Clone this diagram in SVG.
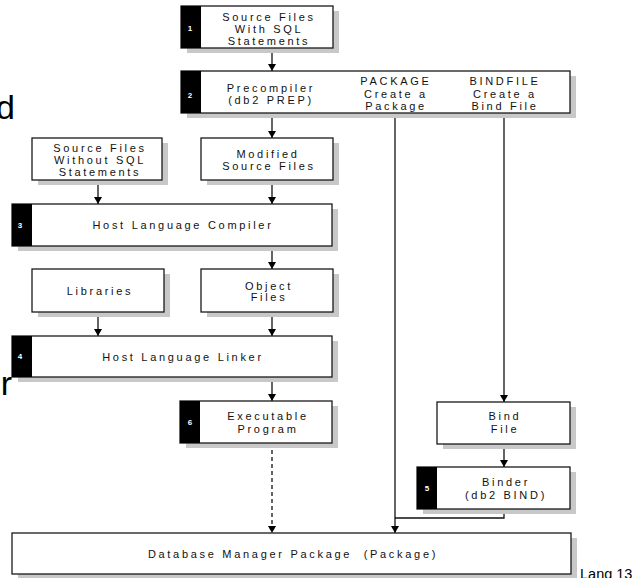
<svg xmlns="http://www.w3.org/2000/svg" width="638" height="578" viewBox="0 0 638 578">
<style>
.bx{fill:#fff;stroke:#1a1a1a;stroke-width:1.3}
.sh{fill:#c8c8c8}
.tab{fill:#000}
.t{font-family:"Liberation Sans",Arial,sans-serif;font-size:11px;letter-spacing:2.7px;fill:#111;text-anchor:middle}
.n{font-family:"Liberation Sans",Arial,sans-serif;font-size:8px;font-weight:bold;fill:#fff;text-anchor:middle}
.big{font-family:"Liberation Sans",Arial,sans-serif;font-size:34px;fill:#000}
.ln{fill:none;stroke:#111;stroke-width:1.3}
.ds{fill:none;stroke:#111;stroke-width:1.3;stroke-dasharray:4 3}
</style>
<defs>
<marker id="ah" markerWidth="7" markerHeight="8" refX="7" refY="4" orient="auto" markerUnits="userSpaceOnUse">
<path d="M0,0 L7,4 L0,8 z" fill="#000"/>
</marker>
</defs>
<rect width="638" height="578" fill="#fff"/>
<text class="big" x="15" y="119" text-anchor="end">d</text>
<text class="big" x="12" y="395" text-anchor="end">r</text>

<g id="connectors">
<line class="ln" x1="272" y1="48" x2="272" y2="71" marker-end="url(#ah)"/>
<line class="ln" x1="272" y1="113" x2="272" y2="138" marker-end="url(#ah)"/>
<line class="ln" x1="98" y1="180" x2="98" y2="204" marker-end="url(#ah)"/>
<line class="ln" x1="272" y1="180" x2="272" y2="204" marker-end="url(#ah)"/>
<line class="ln" x1="272" y1="246" x2="272" y2="269" marker-end="url(#ah)"/>
<line class="ln" x1="98" y1="312" x2="98" y2="336" marker-end="url(#ah)"/>
<line class="ln" x1="272" y1="312" x2="272" y2="336" marker-end="url(#ah)"/>
<line class="ln" x1="272" y1="377" x2="272" y2="401" marker-end="url(#ah)"/>
<line class="ds" x1="272" y1="443" x2="272" y2="533" marker-end="url(#ah)"/>
<line class="ln" x1="395" y1="113" x2="395" y2="533" marker-end="url(#ah)"/>
<line class="ln" x1="504" y1="113" x2="504" y2="402" marker-end="url(#ah)"/>
<line class="ln" x1="504" y1="444" x2="504" y2="467" marker-end="url(#ah)"/>
<polyline class="ln" points="504,509 504,518 395,518"/>
</g>

<g id="n1">
<rect class="sh" x="187" y="11" width="152" height="42"/>
<rect class="bx" x="181" y="6" width="152" height="42"/>
<rect class="tab" x="181" y="6" width="20" height="42"/>
<text class="n" x="190" y="31">1</text>
<text class="t" x="269" y="21">Source Files</text>
<text class="t" x="269" y="33">With SQL</text>
<text class="t" x="269" y="45">Statements</text>
</g>

<g id="n2">
<rect class="sh" x="187" y="76" width="389" height="42"/>
<rect class="bx" x="181" y="71" width="389" height="42"/>
<rect class="tab" x="181" y="71" width="20" height="42"/>
<text class="n" x="190" y="98">2</text>
<text class="t" x="271" y="92">Precompiler</text>
<text class="t" x="271" y="104">(db2 PREP)</text>
<text class="t" x="396" y="85">PACKAGE</text>
<text class="t" x="396" y="97.5">Create a</text>
<text class="t" x="396" y="110">Package</text>
<text class="t" x="505" y="85">BINDFILE</text>
<text class="t" x="505" y="97.5">Create a</text>
<text class="t" x="505" y="110">Bind File</text>
</g>

<g id="nsrc">
<rect class="sh" x="38" y="143" width="130" height="42"/>
<rect class="bx" x="32" y="138" width="130" height="42"/>
<text class="t" x="100" y="152">Source Files</text>
<text class="t" x="100" y="164">Without SQL</text>
<text class="t" x="100" y="176">Statements</text>
</g>

<g id="nmod">
<rect class="sh" x="207" y="143" width="132" height="42"/>
<rect class="bx" x="201" y="138" width="132" height="42"/>
<text class="t" x="268" y="158">Modified</text>
<text class="t" x="269" y="170">Source Files</text>
</g>

<g id="n3">
<rect class="sh" x="18" y="209" width="320" height="42"/>
<rect class="bx" x="12" y="204" width="320" height="42"/>
<rect class="tab" x="12" y="204" width="20" height="42"/>
<text class="n" x="20" y="228">3</text>
<text class="t" x="183" y="229">Host Language Compiler</text>
</g>

<g id="nlib">
<rect class="sh" x="38" y="274" width="132" height="43"/>
<rect class="bx" x="32" y="269" width="132" height="43"/>
<text class="t" x="100" y="294.5">Libraries</text>
</g>

<g id="nobj">
<rect class="sh" x="207" y="274" width="132" height="43"/>
<rect class="bx" x="201" y="269" width="132" height="43"/>
<text class="t" x="269" y="289.5">Object</text>
<text class="t" x="269" y="301">Files</text>
</g>

<g id="n4">
<rect class="sh" x="18" y="341" width="320" height="41"/>
<rect class="bx" x="12" y="336" width="320" height="41"/>
<rect class="tab" x="12" y="336" width="20" height="41"/>
<text class="n" x="20" y="359">4</text>
<text class="t" x="183" y="361">Host Language Linker</text>
</g>

<g id="n6">
<rect class="sh" x="186" y="406" width="152" height="42"/>
<rect class="bx" x="180" y="401" width="152" height="42"/>
<rect class="tab" x="180" y="401" width="20" height="42"/>
<text class="n" x="190" y="425">6</text>
<text class="t" x="268" y="420">Executable</text>
<text class="t" x="268" y="432.5">Program</text>
</g>

<g id="nbind">
<rect class="sh" x="443" y="407" width="133" height="42"/>
<rect class="bx" x="437" y="402" width="133" height="42"/>
<text class="t" x="505" y="420">Bind</text>
<text class="t" x="505" y="432.5">File</text>
</g>

<g id="n5">
<rect class="sh" x="423" y="472" width="153" height="42"/>
<rect class="bx" x="417" y="467" width="153" height="42"/>
<rect class="tab" x="417" y="467" width="20" height="42"/>
<text class="n" x="427" y="491">5</text>
<text class="t" x="506" y="486">Binder</text>
<text class="t" x="506" y="499">(db2 BIND)</text>
</g>

<g id="ndb">
<rect class="sh" x="18" y="538" width="559" height="41"/>
<rect class="bx" x="12" y="533" width="559" height="41"/>
<text class="t" x="293" y="558" xml:space="preserve">Database Manager Package  (Package)</text>
</g>

<text x="580" y="579" font-family="'Liberation Sans',Arial,sans-serif" font-size="14.5" fill="#000">Lang 13</text>
</svg>
